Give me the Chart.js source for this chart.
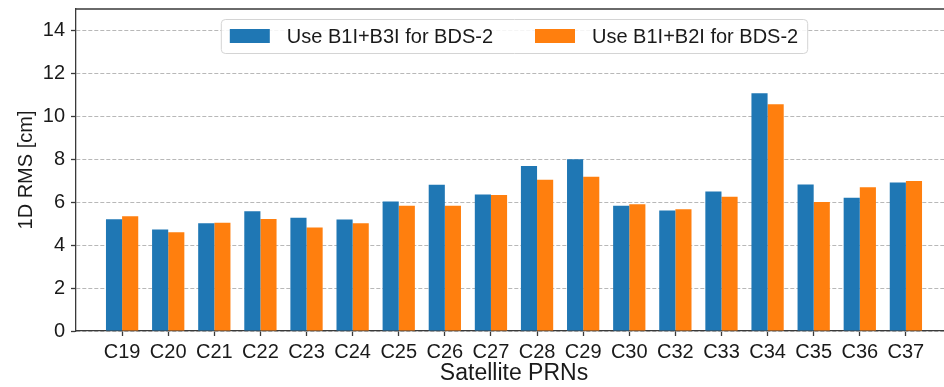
<!DOCTYPE html>
<html>
<head>
<meta charset="utf-8">
<script src="https://cdn.jsdelivr.net/npm/chart.js@4"></script>
<style>
  html, body { margin: 0; padding: 0; background: #fff; }
  #wrap { width: 944px; height: 387px; overflow: hidden; position: relative; }
  #box { width: 952px; height: 387px; }
</style>
</head>
<body>
<div id="wrap"><div id="box"><canvas id="rmsChart"></canvas></div></div>
<script>
// satellite PRNs and 1D RMS values (cm)
var prns = ['C19', 'C20', 'C21', 'C22', 'C23', 'C24', 'C25', 'C26', 'C27', 'C28', 'C29', 'C30', 'C32', 'C33', 'C34', 'C35', 'C36', 'C37'];
var rmsB1B3 = [5.21, 4.73, 5.02, 5.58, 5.27, 5.19, 6.03, 6.81, 6.36, 7.69, 8.00, 5.83, 5.61, 6.50, 11.07, 6.82, 6.21, 6.92];
var rmsB1B2 = [5.35, 4.60, 5.04, 5.22, 4.82, 5.02, 5.83, 5.83, 6.33, 7.05, 7.19, 5.91, 5.67, 6.25, 10.56, 6.01, 6.70, 6.99];
var seriesNames = ['Use B1I+B3I for BDS-2', 'Use B1I+B2I for BDS-2'];
var yTicks = [0, 2, 4, 6, 8, 10, 12, 14];

var FONT = "'Liberation Sans', Arial, sans-serif";
var SPINE = '#3a3a3a';

function points(vals) {
  return vals.map(function(v, i) { return {x: i, y: v}; });
}

// frame on top/right + legend box inside the axes
var framePlugin = {
  id: 'frameAndLegend',
  afterDatasetsDraw: function(chart) {
    var ctx = chart.ctx, a = chart.chartArea;
    ctx.save();
    ctx.strokeStyle = SPINE;
    ctx.lineWidth = 1.3;
    ctx.beginPath();
    ctx.moveTo(a.left, a.top);
    ctx.lineTo(a.right, a.top);
    ctx.lineTo(a.right, a.bottom);
    ctx.stroke();

    // legend
    ctx.font = '20px ' + FONT;
    var sw = 40, sh = 14, pad = 9, gap = 17, between = 42;
    var ds = chart.data.datasets;
    var widths = ds.map(function(d) { return ctx.measureText(d.label).width; });
    var w = pad * 2 + (sw + gap) * ds.length + widths[0] + widths[1] + between;
    var h = 34;
    var x = (a.left + a.right) / 2 - w / 2;
    var y = a.top + 10;
    ctx.fillStyle = 'rgba(255,255,255,0.85)';
    ctx.strokeStyle = '#d4d4d4';
    ctx.lineWidth = 1;
    ctx.beginPath();
    ctx.roundRect(x + 0.5, y + 0.5, w, h, 4);
    ctx.fill();
    ctx.stroke();
    var cx = x + pad;
    var cy = y + h / 2;
    ctx.textBaseline = 'middle';
    ds.forEach(function(d, i) {
      ctx.fillStyle = d.backgroundColor;
      ctx.fillRect(cx, cy - sh / 2, sw, sh);
      ctx.fillStyle = '#1a1a1a';
      ctx.fillText(d.label, cx + sw + gap, cy + 1);
      cx += sw + gap + widths[i] + between;
    });
    ctx.restore();
  }
};

var ctx = document.getElementById('rmsChart');
var chart = new Chart(ctx, {
  type: 'bar',
  data: {
    datasets: [{
      label: seriesNames[0],
      backgroundColor: '#1f77b4',
      data: points(rmsB1B3)
    }, {
      label: seriesNames[1],
      backgroundColor: '#ff7f0e',
      data: points(rmsB1B2)
    }]
  },
  options: {
    responsive: true,
    maintainAspectRatio: false,
    animation: false,
    layout: { padding: { top: 9, right: 0, left: 0, bottom: 0 } },
    datasets: { bar: { categoryPercentage: 0.7, barPercentage: 1.0 } },
    plugins: { legend: { display: false }, tooltip: { enabled: false } },
    scales: {
      x: {
        type: 'linear',
        min: -1,
        max: prns.length,
        offset: false,
        afterBuildTicks: function(scale) {
          scale.ticks = prns.map(function(p, i) { return {value: i}; });
        },
        afterFit: function(scale) {
          scale.height = 56;
          scale.paddingLeft = 0;
          scale.paddingRight = 0;
        },
        ticks: {
          autoSkip: false,
          maxRotation: 0,
          padding: 4,
          color: '#1a1a1a',
          font: { family: FONT, size: 20 },
          callback: function(v) { return prns[v]; }
        },
        grid: { offset: false, drawOnChartArea: false, tickLength: 5, tickColor: SPINE, tickWidth: 1.3 },
        border: { color: SPINE, width: 1.3 },
        title: {
          display: true,
          text: 'Satellite PRNs',
          color: '#1a1a1a',
          font: { family: FONT, size: 23 },
          padding: { top: 0, bottom: 0 }
        }
      },
      y: {
        min: 0,
        max: 15,
        afterBuildTicks: function(scale) {
          scale.ticks = yTicks.map(function(v) { return {value: v}; });
        },
        afterFit: function(scale) {
          scale.width = 76;
          scale.paddingTop = 0;
          scale.paddingBottom = 0;
        },
        ticks: {
          padding: 6,
          color: '#1a1a1a',
          font: { family: FONT, size: 20 }
        },
        grid: { color: '#b8b8b8', lineWidth: 1, tickLength: 5, tickColor: SPINE, tickWidth: 1.3 },
        border: { color: SPINE, width: 1.3, dash: [4, 2] },
        title: {
          display: true,
          text: '1D RMS [cm]',
          color: '#1a1a1a',
          font: { family: FONT, size: 20 },
          padding: { top: 14, bottom: 0 }
        }
      }
    }
  },
  plugins: [framePlugin]
});
</script>
</body>
</html>
